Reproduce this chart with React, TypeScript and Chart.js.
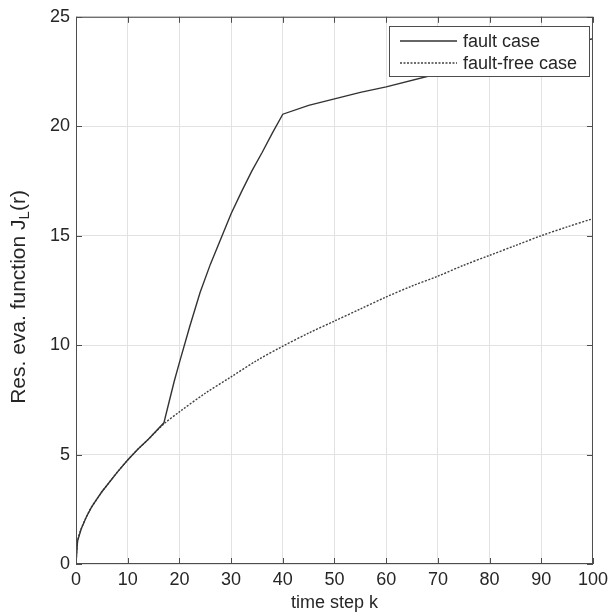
import React, { useEffect, useRef } from "react";
import { Chart, registerables } from "chart.js";

Chart.register(...registerables);

// ---- data ----
const seriesLabels = ["fault case", "fault-free case"];

const faultK = [0, 0.3, 1, 2, 3, 4, 5, 6, 8, 10, 12, 14, 17, 18, 19, 20, 22, 24, 26, 28, 30, 32, 34, 36, 38, 40, 45, 50, 55, 60, 70, 80, 90, 100];
const faultJ = [0, 1.05, 1.6, 2.15, 2.6, 2.95, 3.3, 3.6, 4.2, 4.75, 5.25, 5.7, 6.45, 7.4, 8.35, 9.2, 10.85, 12.4, 13.7, 14.85, 16.0, 17.0, 17.95, 18.8, 19.7, 20.55, 20.95, 21.25, 21.55, 21.8, 22.4, 22.95, 23.5, 24.0];

const faultFreeK = [0, 0.3, 1, 2, 3, 4, 5, 6, 8, 10, 12, 14, 17, 20, 25, 30, 35, 40, 45, 50, 55, 60, 65, 70, 75, 80, 85, 90, 95, 100];
const faultFreeJ = [0, 1.05, 1.6, 2.15, 2.6, 2.95, 3.3, 3.6, 4.2, 4.75, 5.25, 5.7, 6.4, 6.95, 7.8, 8.55, 9.3, 9.95, 10.55, 11.1, 11.65, 12.2, 12.7, 13.15, 13.65, 14.1, 14.55, 15.0, 15.4, 15.78];

const xTicks = [0, 10, 20, 30, 40, 50, 60, 70, 80, 90, 100];
const yTicks = [0, 5, 10, 15, 20, 25];

const xTitle = "time step k";
const yTitleMain = "Res. eva. function J";
const yTitleSub = "L";
const yTitleEnd = "(r)";

const FONT = "'Liberation Sans', Arial, Helvetica, sans-serif";
const TEXT = "#262626";
const AXIS = "#4d4d4d";

const framePlugin = {
  id: "matlabFrame",
  afterDatasetsDraw(chart: any) {
    const { ctx, chartArea: a, scales } = chart;
    const xs = scales.x;
    const ys = scales.y;
    ctx.save();
    // box
    ctx.strokeStyle = AXIS;
    ctx.lineWidth = 1;
    ctx.strokeRect(a.left + 0.5, a.top + 0.5, a.right - a.left - 1, a.bottom - a.top - 1);
    // inward ticks
    const tl = 6;
    ctx.beginPath();
    xs.ticks.forEach((t: any) => {
      const px = Math.round(xs.getPixelForValue(t.value)) + 0.5;
      ctx.moveTo(px, a.bottom);
      ctx.lineTo(px, a.bottom - tl);
      ctx.moveTo(px, a.top);
      ctx.lineTo(px, a.top + tl);
    });
    ys.ticks.forEach((t: any) => {
      const py = Math.round(ys.getPixelForValue(t.value)) + 0.5;
      ctx.moveTo(a.left, py);
      ctx.lineTo(a.left + tl, py);
      ctx.moveTo(a.right, py);
      ctx.lineTo(a.right - tl, py);
    });
    ctx.stroke();

    // legend box
    const lx = 389, ly = 26, lw = 200, lh = 50;
    ctx.fillStyle = "#ffffff";
    ctx.fillRect(lx, ly, lw, lh);
    ctx.strokeStyle = AXIS;
    ctx.strokeRect(lx + 0.5, ly + 0.5, lw, lh);
    chart.data.datasets.forEach((ds: any, i: number) => {
      const yy = ly + 15 + i * 22;
      ctx.beginPath();
      ctx.strokeStyle = ds.borderColor;
      ctx.lineWidth = ds.borderWidth;
      ctx.setLineDash(ds.borderDash || []);
      ctx.moveTo(lx + 11, yy);
      ctx.lineTo(lx + 68, yy);
      ctx.stroke();
      ctx.setLineDash([]);
      ctx.fillStyle = TEXT;
      ctx.font = `18px ${FONT}`;
      ctx.textBaseline = "middle";
      ctx.textAlign = "left";
      ctx.fillText(ds.label, lx + 74, yy + 1);
    });

    // x title
    ctx.fillStyle = TEXT;
    ctx.font = `18px ${FONT}`;
    ctx.textAlign = "center";
    ctx.textBaseline = "middle";
    ctx.fillText(xTitle, (a.left + a.right) / 2, 603);

    // y title with subscript
    ctx.save();
    ctx.translate(19, 297);
    ctx.rotate(-Math.PI / 2);
    ctx.textAlign = "left";
    ctx.textBaseline = "middle";
    ctx.font = `21px ${FONT}`;
    const w1 = ctx.measureText(yTitleMain).width;
    const w3 = ctx.measureText(yTitleEnd).width;
    ctx.font = `15px ${FONT}`;
    const w2 = ctx.measureText(yTitleSub).width;
    let x0 = -(w1 + w2 + w3) / 2;
    ctx.font = `21px ${FONT}`;
    ctx.fillText(yTitleMain, x0, 0);
    x0 += w1;
    ctx.font = `15px ${FONT}`;
    ctx.fillText(yTitleSub, x0, 6);
    x0 += w2;
    ctx.font = `21px ${FONT}`;
    ctx.fillText(yTitleEnd, x0, 0);
    ctx.restore();

    ctx.restore();
  },
};

export default function App() {
  const ref = useRef<HTMLCanvasElement | null>(null);

  useEffect(() => {
    if (!ref.current) return;
    const chart = new Chart(ref.current, {
      type: "line",
      data: {
        datasets: [
          {
            label: seriesLabels[0],
            data: faultK.map((k, i) => ({ x: k, y: faultJ[i] })),
            borderColor: "#333333",
            borderWidth: 1.4,
            pointRadius: 0,
            tension: 0,
            fill: false,
          },
          {
            label: seriesLabels[1],
            data: faultFreeK.map((k, i) => ({ x: k, y: faultFreeJ[i] })),
            borderColor: "#404040",
            borderWidth: 1.4,
            borderDash: [2, 1.5],
            pointRadius: 0,
            tension: 0.3,
            fill: false,
          },
        ],
      },
      options: {
        animation: false,
        responsive: false,
        layout: { padding: { left: 0, top: 16, right: 16, bottom: 0 } },
        plugins: { legend: { display: false }, tooltip: { enabled: false } },
        scales: {
          x: {
            type: "linear",
            min: 0,
            max: 100,
            afterBuildTicks: (s: any) => {
              s.ticks = xTicks.map((v) => ({ value: v }));
            },
            afterFit: (s: any) => {
              s.height = 50;
            },
            ticks: { color: TEXT, font: { size: 18, family: FONT }, padding: 5, maxRotation: 0, autoSkip: false },
            grid: { color: "#e2e2e2", drawTicks: false },
            border: { display: false },
          },
          y: {
            type: "linear",
            min: 0,
            max: 25,
            afterBuildTicks: (s: any) => {
              s.ticks = yTicks.map((v) => ({ value: v }));
            },
            afterFit: (s: any) => {
              s.width = 76;
            },
            ticks: { color: TEXT, font: { size: 18, family: FONT }, padding: 6, autoSkip: false },
            grid: { color: "#e2e2e2", drawTicks: false },
            border: { display: false },
          },
        },
      },
      plugins: [framePlugin],
    });
    return () => chart.destroy();
  }, []);

  return (
    <div style={{ position: "absolute", left: 0, top: 0, width: 613, height: 614, background: "#fff" }}>
      <canvas ref={ref} width={613} height={614} style={{ width: 613, height: 614, display: "block" }} />
    </div>
  );
}
